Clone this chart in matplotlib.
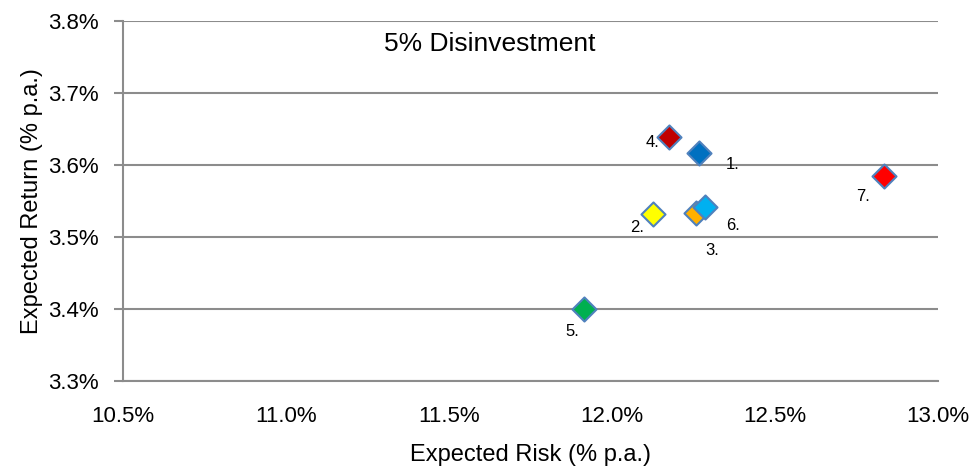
import matplotlib
matplotlib.use("Agg")
import matplotlib.pyplot as plt
from matplotlib.ticker import FuncFormatter

labels = ["1.", "2.", "3.", "4.", "5.", "6.", "7."]
risk = [12.267, 12.126, 12.258, 12.175, 11.914, 12.285, 12.834]
ret = [3.617, 3.532, 3.533, 3.639, 3.400, 3.541, 3.585]
colors = ["#0070C0", "#FFFF00", "#FFB000", "#C00000", "#00B050", "#00B0F0", "#FF0000"]
label_offsets_px = [(34, -12), (-16, -14), (16, -37), (-17, -6), (-12, -23), (28, -18), (-21, -21)]

font = "Liberation Sans"

fig = plt.figure(figsize=(9.74, 4.74), dpi=100)
ax = fig.add_axes([123/974, 1-381/474, (938-123)/974, (381-21)/474])

ax.set_xlim(10.5, 13.0)
ax.set_ylim(3.3, 3.8)
ax.set_xticks([10.5, 11.0, 11.5, 12.0, 12.5, 13.0])
ax.set_yticks([3.3, 3.4, 3.5, 3.6, 3.7, 3.8])
ax.xaxis.set_major_formatter(FuncFormatter(lambda v, p: f"{v:.1f}%"))
ax.yaxis.set_major_formatter(FuncFormatter(lambda v, p: f"{v:.1f}%"))
ax.grid(axis="y", color="#8c8c8c", linewidth=1.5)
ax.set_axisbelow(True)
for s in ["top", "right"]:
    ax.spines[s].set_visible(False)
for s in ["left", "bottom"]:
    ax.spines[s].set_color("#8c8c8c")
    ax.spines[s].set_linewidth(1.5)
ax.tick_params(axis="y", length=6.5, color="#8c8c8c", width=1.5, pad=11)
ax.tick_params(axis="x", length=0, pad=18)
for t in ax.get_xticklabels() + ax.get_yticklabels():
    t.set_fontfamily(font)
    t.set_fontsize(16)

for x, y, c, lab, (dx, dy) in zip(risk, ret, colors, labels, label_offsets_px):
    ax.scatter([x], [y], marker="D", s=150, facecolor=c, edgecolor="#4F81BD", linewidth=1.5, zorder=3)
    ax.annotate(lab, (x, y), xytext=(dx*0.72, dy*0.72), textcoords="offset points",
                ha="center", va="center", fontsize=12, fontfamily=font)

ax.text(0.45, 0.935, "5% Disinvestment", transform=ax.transAxes, ha="center", va="center",
        fontsize=19, fontfamily=font)
ax.set_xlabel("Expected Risk (% p.a.)", fontsize=17, fontfamily=font, labelpad=12)
ax.set_ylabel("Expected Return (% p.a.)", fontsize=17, fontfamily=font, labelpad=4)

fig.savefig("out.png", dpi=100)
